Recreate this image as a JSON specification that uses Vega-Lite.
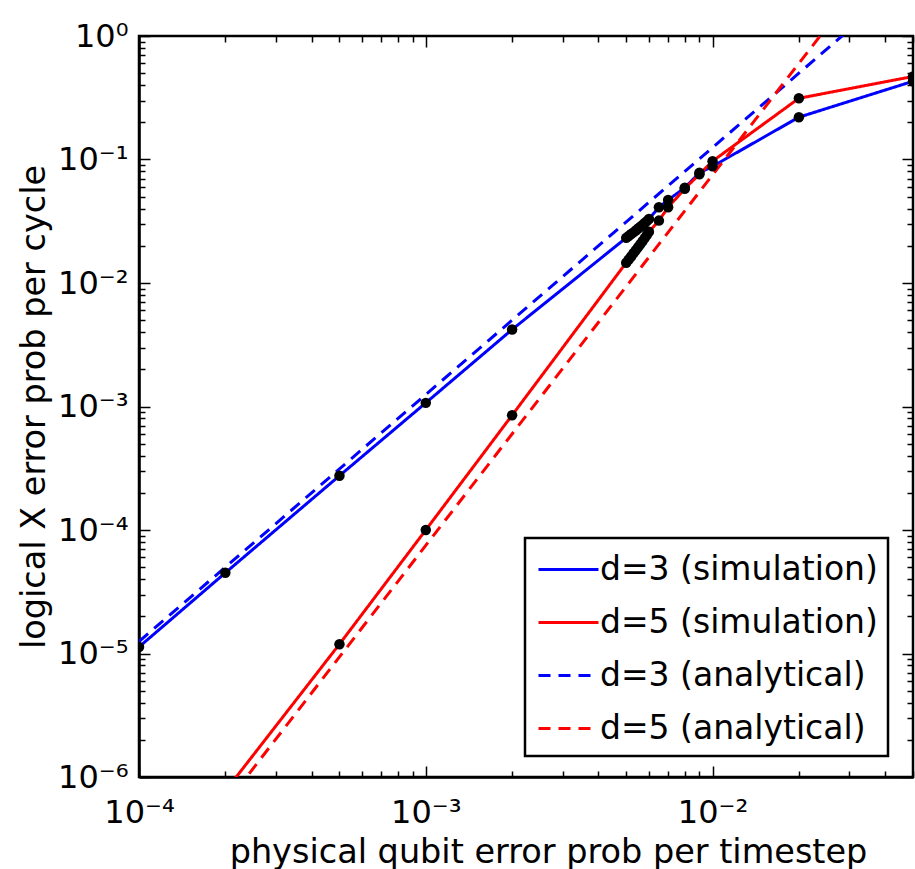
{
  "$schema": "https://vega.github.io/schema/vega-lite/v6.json",
  "width": 774,
  "height": 741,
  "autosize": {"type": "none"},
  "padding": {"left": 139, "top": 36, "right": 2, "bottom": 92},
  "background": "white",
  "config": {
    "font": "DejaVu Sans",
    "view": {"stroke": "black", "strokeWidth": 2.5},
    "axis": {
      "grid": false,
      "labelFont": "DejaVu Sans",
      "titleFont": "DejaVu Sans",
      "labelColor": "black",
      "titleColor": "black",
      "titleFontWeight": "normal",
      "labelFontSize": 32,
      "titleFontSize": 33.5,
      "tickColor": "black",
      "tickWidth": 1.5,
      "domainColor": "black",
      "domainWidth": 2.5,
      "labelFlush": false,
      "labelOverlap": false,
      "labelBound": false
    }
  },
  "data": {
    "values": [
      {"p": 1e-4, "v": 1.13e-5, "series": "d=3 (simulation)", "kind": "sim"},
      {"p": 2e-4, "v": 4.5e-5, "series": "d=3 (simulation)", "kind": "sim"},
      {"p": 5e-4, "v": 2.75e-4, "series": "d=3 (simulation)", "kind": "sim"},
      {"p": 1e-3, "v": 1.07e-3, "series": "d=3 (simulation)", "kind": "sim"},
      {"p": 2e-3, "v": 4.2e-3, "series": "d=3 (simulation)", "kind": "sim"},
      {"p": 5.0e-3, "v": 0.0232, "series": "d=3 (simulation)", "kind": "sim"},
      {"p": 5.1e-3, "v": 0.0240, "series": "d=3 (simulation)", "kind": "sim"},
      {"p": 5.2e-3, "v": 0.0249, "series": "d=3 (simulation)", "kind": "sim"},
      {"p": 5.3e-3, "v": 0.0257, "series": "d=3 (simulation)", "kind": "sim"},
      {"p": 5.4e-3, "v": 0.0266, "series": "d=3 (simulation)", "kind": "sim"},
      {"p": 5.5e-3, "v": 0.0276, "series": "d=3 (simulation)", "kind": "sim"},
      {"p": 5.6e-3, "v": 0.0285, "series": "d=3 (simulation)", "kind": "sim"},
      {"p": 5.7e-3, "v": 0.0295, "series": "d=3 (simulation)", "kind": "sim"},
      {"p": 5.8e-3, "v": 0.0306, "series": "d=3 (simulation)", "kind": "sim"},
      {"p": 5.9e-3, "v": 0.0317, "series": "d=3 (simulation)", "kind": "sim"},
      {"p": 6.0e-3, "v": 0.0330, "series": "d=3 (simulation)", "kind": "sim"},
      {"p": 6.5e-3, "v": 0.041, "series": "d=3 (simulation)", "kind": "sim"},
      {"p": 7e-3, "v": 0.047, "series": "d=3 (simulation)", "kind": "sim"},
      {"p": 8e-3, "v": 0.059, "series": "d=3 (simulation)", "kind": "sim"},
      {"p": 9e-3, "v": 0.078, "series": "d=3 (simulation)", "kind": "sim"},
      {"p": 1e-2, "v": 0.088, "series": "d=3 (simulation)", "kind": "sim"},
      {"p": 2e-2, "v": 0.22, "series": "d=3 (simulation)", "kind": "sim"},
      {"p": 5e-2, "v": 0.43, "series": "d=3 (simulation)", "kind": "sim"},
      {"p": 1e-4, "v": 9.5e-8, "series": "d=5 (simulation)", "kind": "sim"},
      {"p": 2e-4, "v": 7.7e-7, "series": "d=5 (simulation)", "kind": "sim"},
      {"p": 5e-4, "v": 1.19e-5, "series": "d=5 (simulation)", "kind": "sim"},
      {"p": 1e-3, "v": 1.0e-4, "series": "d=5 (simulation)", "kind": "sim"},
      {"p": 2e-3, "v": 8.5e-4, "series": "d=5 (simulation)", "kind": "sim"},
      {"p": 5.0e-3, "v": 0.0146, "series": "d=5 (simulation)", "kind": "sim"},
      {"p": 5.1e-3, "v": 0.0155, "series": "d=5 (simulation)", "kind": "sim"},
      {"p": 5.2e-3, "v": 0.0164, "series": "d=5 (simulation)", "kind": "sim"},
      {"p": 5.3e-3, "v": 0.0174, "series": "d=5 (simulation)", "kind": "sim"},
      {"p": 5.4e-3, "v": 0.0184, "series": "d=5 (simulation)", "kind": "sim"},
      {"p": 5.5e-3, "v": 0.0195, "series": "d=5 (simulation)", "kind": "sim"},
      {"p": 5.6e-3, "v": 0.0206, "series": "d=5 (simulation)", "kind": "sim"},
      {"p": 5.7e-3, "v": 0.0218, "series": "d=5 (simulation)", "kind": "sim"},
      {"p": 5.8e-3, "v": 0.0231, "series": "d=5 (simulation)", "kind": "sim"},
      {"p": 5.9e-3, "v": 0.0245, "series": "d=5 (simulation)", "kind": "sim"},
      {"p": 6.0e-3, "v": 0.026, "series": "d=5 (simulation)", "kind": "sim"},
      {"p": 6.5e-3, "v": 0.032, "series": "d=5 (simulation)", "kind": "sim"},
      {"p": 7e-3, "v": 0.041, "series": "d=5 (simulation)", "kind": "sim"},
      {"p": 8e-3, "v": 0.058, "series": "d=5 (simulation)", "kind": "sim"},
      {"p": 9e-3, "v": 0.076, "series": "d=5 (simulation)", "kind": "sim"},
      {"p": 1e-2, "v": 0.097, "series": "d=5 (simulation)", "kind": "sim"},
      {"p": 2e-2, "v": 0.313, "series": "d=5 (simulation)", "kind": "sim"},
      {"p": 5e-2, "v": 0.47, "series": "d=5 (simulation)", "kind": "sim"},
      {"p": 1e-4, "v": 1.25e-5, "series": "d=3 (analytical)", "kind": "ana"},
      {"p": 1e-3, "v": 1.25e-3, "series": "d=3 (analytical)", "kind": "ana"},
      {"p": 1e-2, "v": 0.125, "series": "d=3 (analytical)", "kind": "ana"},
      {"p": 5e-2, "v": 3.125, "series": "d=3 (analytical)", "kind": "ana"},
      {"p": 1e-4, "v": 7.5e-8, "series": "d=5 (analytical)", "kind": "ana"},
      {"p": 1e-3, "v": 7.5e-5, "series": "d=5 (analytical)", "kind": "ana"},
      {"p": 1e-2, "v": 0.075, "series": "d=5 (analytical)", "kind": "ana"},
      {"p": 5e-2, "v": 9.375, "series": "d=5 (analytical)", "kind": "ana"}
    ]
  },
  "layer": [
    {
      "mark": {"type": "line", "strokeWidth": 3, "clip": true},
      "encoding": {
        "x": {
          "field": "p", "type": "quantitative",
          "scale": {"type": "log", "domain": [0.0001, 0.05], "nice": false},
          "axis": {
            "orient": "bottom",
            "title": "physical qubit error prob per timestep",
            "values": [1e-4, 2e-4, 3e-4, 4e-4, 5e-4, 6e-4, 7e-4, 8e-4, 9e-4, 1e-3, 2e-3, 3e-3, 4e-3, 5e-3, 6e-3, 7e-3, 8e-3, 9e-3, 1e-2, 2e-2, 3e-2, 4e-2, 5e-2],
            "labelExpr": "abs(log(datum.value)/LN10 - round(log(datum.value)/LN10)) < 0.001 ? '10' + (round(log(datum.value)/LN10) < 0 ? '⁻' : '') + ['⁰','¹','²','³','⁴','⁵','⁶'][abs(round(log(datum.value)/LN10))] : ''",
            "tickSize": {"condition": {"test": "abs(log(datum.value)/LN10 - round(log(datum.value)/LN10)) < 0.001", "value": -11}, "value": -6},
            "labelPadding": 31,
            "titlePadding": 3,
            "titleX": 409
          }
        },
        "y": {
          "field": "v", "type": "quantitative",
          "scale": {"type": "log", "domain": [0.000001, 1], "nice": false},
          "axis": {
            "orient": "left",
            "title": "logical X error prob per cycle",
            "values": [1e-6, 2e-6, 3e-6, 4e-6, 5e-6, 6e-6, 7e-6, 8e-6, 9e-6, 1e-5, 2e-5, 3e-5, 4e-5, 5e-5, 6e-5, 7e-5, 8e-5, 9e-5, 1e-4, 2e-4, 3e-4, 4e-4, 5e-4, 6e-4, 7e-4, 8e-4, 9e-4, 1e-3, 2e-3, 3e-3, 4e-3, 5e-3, 6e-3, 7e-3, 8e-3, 9e-3, 1e-2, 2e-2, 3e-2, 4e-2, 5e-2, 6e-2, 7e-2, 8e-2, 9e-2, 0.1, 0.2, 0.3, 0.4, 0.5, 0.6, 0.7, 0.8, 0.9, 1],
            "labelExpr": "abs(log(datum.value)/LN10 - round(log(datum.value)/LN10)) < 0.001 ? '10' + (round(log(datum.value)/LN10) < 0 ? '⁻' : '') + ['⁰','¹','²','³','⁴','⁵','⁶'][abs(round(log(datum.value)/LN10))] : ''",
            "tickSize": {"condition": {"test": "abs(log(datum.value)/LN10 - round(log(datum.value)/LN10)) < 0.001", "value": -11}, "value": -6},
            "labelPadding": 22,
            "titlePadding": 6
          }
        },
        "color": {
          "field": "series", "type": "nominal",
          "scale": {"domain": ["d=3 (simulation)", "d=5 (simulation)", "d=3 (analytical)", "d=5 (analytical)"], "range": ["#0000ff", "#ff0000", "#0000ff", "#ff0000"]},
          "legend": {
            "title": null, "orient": "none", "legendX": 386, "legendY": 502,
            "strokeColor": "black", "fillColor": "white", "padding": 10,
            "labelFont": "DejaVu Sans", "labelFontSize": 33, "labelColor": "black", "labelLimit": 600,
            "symbolType": "M-1.5,0H1.5", "symbolSize": 1600, "symbolStrokeWidth": 3, "symbolOffset": 12,
            "rowPadding": 14, "labelOffset": 10,
            "encode": {"legend": {"update": {"strokeWidth": {"value": 2.5}}}}
          }
        },
        "strokeDash": {
          "field": "series", "type": "nominal",
          "scale": {"domain": ["d=3 (simulation)", "d=5 (simulation)", "d=3 (analytical)", "d=5 (analytical)"], "range": [[1, 0], [1, 0], [12, 8], [12, 8]]},
          "legend": {
            "title": null, "orient": "none", "legendX": 386, "legendY": 502,
            "strokeColor": "black", "fillColor": "white", "padding": 10,
            "labelFont": "DejaVu Sans", "labelFontSize": 33, "labelColor": "black", "labelLimit": 600,
            "symbolType": "M-1.5,0H1.5", "symbolSize": 1600, "symbolStrokeWidth": 3, "symbolOffset": 12,
            "rowPadding": 14, "labelOffset": 10,
            "encode": {"legend": {"update": {"strokeWidth": {"value": 2.5}}}}
          }
        }
      }
    },
    {
      "transform": [{"filter": "datum.kind == 'sim'"}],
      "mark": {"type": "point", "filled": true, "color": "black", "size": 110, "opacity": 1, "strokeWidth": 0, "clip": true},
      "encoding": {
        "x": {
          "field": "p", "type": "quantitative",
          "scale": {"type": "log", "domain": [0.0001, 0.05], "nice": false},
          "axis": {
            "orient": "top", "title": null, "labels": false, "domain": false,
            "values": [1e-4, 2e-4, 3e-4, 4e-4, 5e-4, 6e-4, 7e-4, 8e-4, 9e-4, 1e-3, 2e-3, 3e-3, 4e-3, 5e-3, 6e-3, 7e-3, 8e-3, 9e-3, 1e-2, 2e-2, 3e-2, 4e-2, 5e-2],
            "tickSize": {"condition": {"test": "abs(log(datum.value)/LN10 - round(log(datum.value)/LN10)) < 0.001", "value": -11}, "value": -6}
          }
        },
        "y": {
          "field": "v", "type": "quantitative",
          "scale": {"type": "log", "domain": [0.000001, 1], "nice": false},
          "axis": {
            "orient": "right", "title": null, "labels": false, "domain": false,
            "values": [1e-6, 2e-6, 3e-6, 4e-6, 5e-6, 6e-6, 7e-6, 8e-6, 9e-6, 1e-5, 2e-5, 3e-5, 4e-5, 5e-5, 6e-5, 7e-5, 8e-5, 9e-5, 1e-4, 2e-4, 3e-4, 4e-4, 5e-4, 6e-4, 7e-4, 8e-4, 9e-4, 1e-3, 2e-3, 3e-3, 4e-3, 5e-3, 6e-3, 7e-3, 8e-3, 9e-3, 1e-2, 2e-2, 3e-2, 4e-2, 5e-2, 6e-2, 7e-2, 8e-2, 9e-2, 0.1, 0.2, 0.3, 0.4, 0.5, 0.6, 0.7, 0.8, 0.9, 1],
            "tickSize": {"condition": {"test": "abs(log(datum.value)/LN10 - round(log(datum.value)/LN10)) < 0.001", "value": -11}, "value": -6}
          }
        }
      }
    }
  ],
  "resolve": {"axis": {"x": "independent", "y": "independent"}}
}
